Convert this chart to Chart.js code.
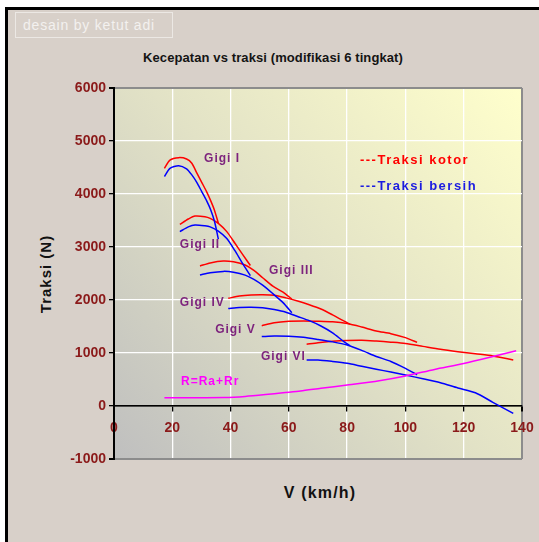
<!DOCTYPE html>
<html>
<head>
<meta charset="utf-8">
<script src="https://cdn.jsdelivr.net/npm/chart.js@4.4.1/dist/chart.umd.min.js"></script>
<style>
  html, body { margin: 0; padding: 0; background: #fff; }
  body { width: 539px; height: 542px; position: relative; overflow: hidden; font-family: "Liberation Sans", Arial, sans-serif; }
  .frame { position: absolute; left: 5px; top: 7px; right: 0; bottom: 0; background: #d8d0c9; border-left: 3px solid #000; border-top: 3px solid #000; }
  .stamp { position: absolute; left: 15px; top: 12px; width: 149px; height: 24px; border: 1px solid #ece8e4; color: #f3f1ef; font-size: 14px; line-height: 24px; letter-spacing: 0.8px; padding-left: 7px; box-sizing: content-box; white-space: nowrap; }
  .title { position: absolute; left: 143px; top: 50px; font-size: 13px; font-weight: bold; letter-spacing: 0.1px; color: #141414; white-space: nowrap; }
  .ytitle { position: absolute; left: 45px; top: 274px; transform: translate(-50%, -50%) rotate(-90deg); font-size: 15px; font-weight: bold; letter-spacing: 1px; color: #111; white-space: nowrap; }
  .xtitle { position: absolute; left: 320px; top: 493px; transform: translate(-50%, -50%); font-size: 16px; font-weight: bold; letter-spacing: 1.2px; color: #111; white-space: nowrap; }
  canvas { position: absolute; left: 0; top: 0; }
</style>
</head>
<body>
<div class="frame"></div>
<div class="stamp">desain by ketut adi</div>
<div class="title">Kecepatan vs traksi (modifikasi 6 tingkat)</div>
<div class="ytitle">Traksi (N)</div>
<div class="xtitle">V (km/h)</div>
<canvas id="traksiChart" width="539" height="542"></canvas>
<script>
// kecepatan (km/h) tiap gigi, traksi kotor (merah) dan bersih (biru) dalam N
const gigi1V = [17.3, 19.2, 22.2, 24.9, 26.7, 28.4, 30.1, 31.8, 33.2, 34.5, 35.8]
const gigi1Kotor = [4485, 4640, 4686, 4660, 4580, 4400, 4220, 4040, 3870, 3690, 3450]
const gigi1Bersih = [4330, 4485, 4535, 4475, 4360, 4220, 4045, 3870, 3700, 3480, 3150]

const gigi2V = [22.6, 25.5, 27.8, 31.2, 33.0, 35.8, 38.7, 41.5, 44.0, 46.8]
const gigi2Kotor = [3428, 3528, 3585, 3572, 3540, 3447, 3290, 3070, 2870, 2650]
const gigi2Bersih = [3290, 3380, 3415, 3400, 3380, 3300, 3160, 2930, 2700, 2460]

const gigi3V = [29.5, 33, 37.5, 41, 45, 48, 51, 54.5, 58, 61]
const gigi3Kotor = [2642, 2700, 2736, 2720, 2661, 2560, 2420, 2260, 2150, 2020]
const gigi3Bersih = [2472, 2515, 2540, 2525, 2470, 2390, 2280, 2120, 1950, 1760]

const gigi4V = [39.2, 43, 47, 51, 55, 59, 63, 67, 71, 75, 79, 81]
const gigi4Kotor = [2032, 2075, 2095, 2100, 2090, 2040, 1980, 1910, 1830, 1720, 1600, 1545]
const gigi4Bersih = [1840, 1860, 1865, 1855, 1820, 1770, 1690, 1610, 1510, 1380, 1210, 1140]

const gigi5V = [50.7, 55, 60, 65, 70, 75, 80, 85, 90, 95, 100, 104]
const gigi5Kotor = [1516, 1570, 1598, 1606, 1600, 1588, 1555, 1490, 1415, 1365, 1290, 1200]
const gigi5Bersih = [1310, 1320, 1315, 1295, 1255, 1210, 1150, 1050, 935, 840, 710, 590]

const gigi6V = [66.1, 70, 75, 80, 85, 90, 95, 100, 106, 112, 118, 124, 130, 137]
const gigi6Kotor = [1164, 1195, 1220, 1235, 1240, 1225, 1205, 1180, 1125, 1070, 1025, 985, 945, 868]
const gigi6Bersih = [868, 868, 840, 805, 750, 695, 640, 583, 515, 440, 340, 250, 70, -140]

// hambatan total R = Ra + Rr
const hambatanV = [17.3, 25, 38, 45, 52, 58, 64, 71, 80, 91, 100, 110, 120, 129, 138]
const hambatanR = [157, 157, 160, 180, 215, 250, 283, 334, 396, 478, 568, 690, 800, 918, 1044]

const xTicks = [0, 20, 40, 60, 80, 100, 120, 140]
const yTicks = [-1000, 0, 1000, 2000, 3000, 4000, 5000, 6000]

// teks keterangan di dalam grafik (posisi dalam koordinat data)
const notes = [
  { text: "Gigi I", v: 30.9, t: 4660, color: "#7d237d" },
  { text: "Gigi II", v: 22.6, t: 3040, color: "#7d237d" },
  { text: "Gigi III", v: 53.2, t: 2550, color: "#7d237d" },
  { text: "Gigi IV", v: 22.6, t: 1945, color: "#7d237d" },
  { text: "Gigi V", v: 34.7, t: 1435, color: "#7d237d" },
  { text: "Gigi VI", v: 50.4, t: 925, color: "#7d237d" },
  { text: "R=Ra+Rr", v: 23, t: 453, color: "#ff00ff" },
  { text: "---Traksi kotor", v: 84.4, t: 4640, color: "#ff0000", legend: true },
  { text: "---Traksi bersih", v: 84.4, t: 4150, color: "#1c1ce0", legend: true },
]

const RED = "#ff0000"
const BLUE = "#0000ff"
const MAGENTA = "#ff00ff"
const TICK_COLOR = "#8b1a1a"

function series(v, t, color) {
  return {
    data: v.map((x, i) => ({ x: x, y: t[i] })),
    showLine: true,
    borderColor: color,
    backgroundColor: color,
    borderWidth: 1.5,
    pointRadius: 0,
    tension: 0.25,
    fill: false,
  }
}

// latar area plot: gradasi abu-abu ke kuning muda
const plotBackground = {
  id: "plotBackground",
  beforeDraw(chart) {
    const { ctx, chartArea: a } = chart
    const g = ctx.createLinearGradient(a.left, a.bottom, a.right, a.top)
    g.addColorStop(0, "#bfbfbf")
    g.addColorStop(0.5, "#e2e2c6")
    g.addColorStop(1, "#ffffcc")
    ctx.save()
    ctx.fillStyle = g
    ctx.fillRect(a.left, a.top, a.width, a.height)
    ctx.restore()
  },
}

const noteLabels = {
  id: "noteLabels",
  afterDatasetsDraw(chart) {
    const { ctx, scales } = chart
    ctx.save()
    ctx.textAlign = "left"
    ctx.textBaseline = "middle"
    notes.forEach((n) => {
      ctx.font = n.legend ? 'bold 13px "Liberation Sans", Arial' : 'bold 12px "Liberation Sans", Arial'
      ctx.letterSpacing = n.legend ? "1.5px" : "1px"
      ctx.fillStyle = n.color
      ctx.fillText(n.text, scales.x.getPixelForValue(n.v), scales.y.getPixelForValue(n.t))
    })
    ctx.restore()
  },
}

const datasets = [
  series(hambatanV, hambatanR, MAGENTA),
  series(gigi1V, gigi1Bersih, BLUE),
  series(gigi2V, gigi2Bersih, BLUE),
  series(gigi3V, gigi3Bersih, BLUE),
  series(gigi4V, gigi4Bersih, BLUE),
  series(gigi5V, gigi5Bersih, BLUE),
  series(gigi6V, gigi6Bersih, BLUE),
  series(gigi1V, gigi1Kotor, RED),
  series(gigi2V, gigi2Kotor, RED),
  series(gigi3V, gigi3Kotor, RED),
  series(gigi4V, gigi4Kotor, RED),
  series(gigi5V, gigi5Kotor, RED),
  series(gigi6V, gigi6Kotor, RED),
]

const tickFont = { family: '"Liberation Sans", Arial', size: 14, weight: "bold" }

new Chart(document.getElementById("traksiChart"), {
  type: "scatter",
  data: { datasets: datasets },
  options: {
    responsive: false,
    animation: false,
    devicePixelRatio: 1,
    layout: { padding: { left: 0, top: 88, right: 17, bottom: 83 } },
    plugins: { legend: { display: false }, tooltip: { enabled: false }, title: { display: false } },
    scales: {
      x: {
        type: "linear",
        position: { y: 0 },
        min: xTicks[0],
        max: xTicks[xTicks.length - 1],
        afterBuildTicks: (s) => { s.ticks = xTicks.map((v) => ({ value: v })) },
        afterFit: (s) => {
          s.height = 0
          s.paddingLeft = 0
          s.paddingRight = 0
        },
        ticks: { font: tickFont, color: TICK_COLOR, padding: 9, maxRotation: 0, callback: (v) => String(v) },
        grid: {
          color: (c) => (c.tick && c.tick.value === 140 ? "#8c8c8c" : "#ffffff"),
          lineWidth: (c) => (c.tick && c.tick.value === 140 ? 2 : 1.3),
          tickColor: "#000",
          tickLength: 5,
        },
        border: { color: "#000", width: 1.5 },
      },
      y: {
        type: "linear",
        position: "left",
        min: yTicks[0],
        max: yTicks[yTicks.length - 1],
        afterBuildTicks: (s) => { s.ticks = yTicks.map((v) => ({ value: v })) },
        afterFit: (s) => { s.width = 114 },
        ticks: { font: tickFont, color: TICK_COLOR, padding: 3, callback: (v) => String(v) },
        grid: {
          color: (c) => {
            if (!c.tick) return "#ffffff"
            if (c.tick.value === 0) return "#000"
            if (c.tick.value === 6000 || c.tick.value === -1000) return "#8c8c8c"
            return "#ffffff"
          },
          lineWidth: (c) => (c.tick && (c.tick.value === 6000 || c.tick.value === -1000) ? 2 : 1.3),
          tickColor: "#000",
          tickLength: 5,
        },
        border: { color: "#000", width: 2 },
      },
    },
  },
  plugins: [plotBackground, noteLabels],
})
</script>
</body>
</html>
